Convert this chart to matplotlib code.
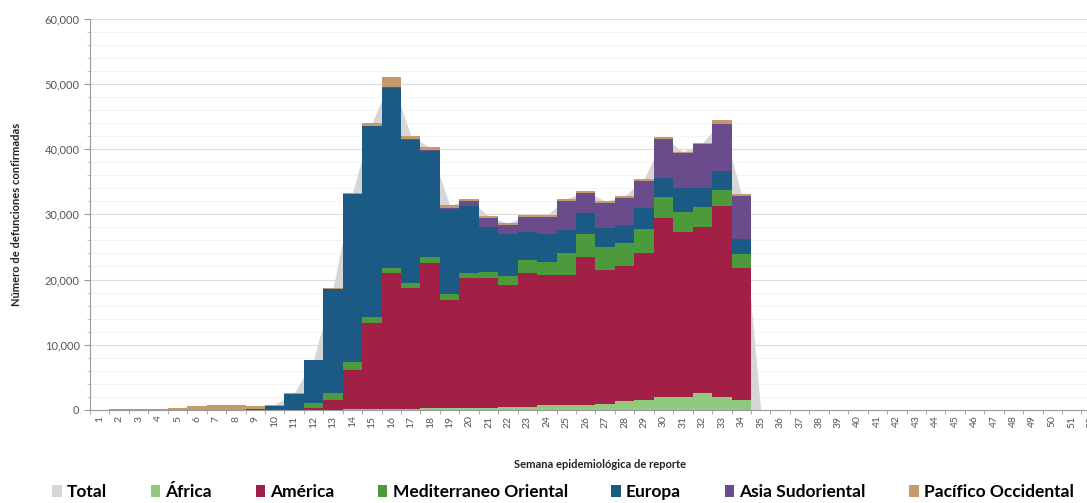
import numpy as np
from matplotlib import pyplot as plt
from matplotlib.ticker import FuncFormatter, MultipleLocator

weeks = list(range(1, 53))

# defunciones por semana (1-34, resto en cero)
africa = [0, 0, 0, 0, 0, 0, 0, 0, 0, 0,
          0, 0, 50, 100, 150, 200, 200, 250, 250, 300,
          300, 400, 500, 700, 750, 800, 900, 1300, 1500, 2000,
          2000, 2550, 2050, 1550]
america = [0, 0, 0, 0, 0, 0, 0, 0, 0, 20,
           100, 300, 1480, 6000, 13150, 20800, 18450, 22250, 16650, 19900,
           20000, 18700, 20460, 20000, 19950, 22700, 20550, 20700, 22500, 27400,
           25350, 25550, 29150, 20150]
mediterraneo = [0, 0, 0, 0, 0, 0, 0, 0, 0, 10,
                100, 770, 1020, 1300, 1000, 700, 850, 1000, 850, 800,
                800, 1370, 2040, 2000, 3300, 3500, 3600, 3600, 3800, 3300,
                3050, 3000, 2500, 2200]
europa = [0, 0, 0, 0, 0, 20, 30, 40, 80, 550,
          2300, 6580, 16050, 25700, 29300, 27600, 21900, 16200, 13050, 10300,
          7000, 6430, 4350, 4200, 3600, 3150, 2900, 2700, 3200, 2800,
          3600, 2900, 2900, 2300]
asia = [0, 0, 0, 0, 0, 0, 0, 0, 0, 0,
        0, 0, 0, 0, 0, 200, 100, 150, 150, 700,
        1350, 1400, 2300, 2700, 4500, 3150, 3800, 4200, 4100, 6100,
        5400, 6700, 7300, 6600]
pacifico = [50, 80, 100, 200, 350, 600, 800, 750, 500, 250,
            100, 50, 100, 200, 400, 1500, 500, 400, 400, 350,
            250, 300, 300, 300, 300, 200, 250, 300, 300, 200,
            200, 200, 500, 300]

n = len(weeks)
series = [africa, america, mediterraneo, europa, asia, pacifico]
series = [np.array(s + [0] * (n - len(s)), dtype=float) for s in series]
total = np.sum(series, axis=0)

names = ['África', 'América', 'Mediterraneo Oriental', 'Europa',
         'Asia Sudoriental', 'Pacífico Occidental']
colors = ['#93c97f', '#a21f45', '#4c9a3c', '#1c5a86', '#6a4b8b', '#c29a6b']

plt.rcParams['font.family'] = ['Lato', 'DejaVu Sans']

fig = plt.figure(figsize=(10.87, 5.03), dpi=100)
ax = fig.add_axes([0.0828, 0.185, 0.93, 0.778])

ax.fill_between(weeks, total, color='#d6d6d6', lw=0, label='Total', zorder=1)

bottom = np.zeros(n)
for s, name, c in zip(series, names, colors):
    ax.bar(weeks, s, width=1.0, bottom=bottom, color=c, label=name,
           lw=0, zorder=2)
    bottom += s

ax.set_xlim(0.5, 52.5)
ax.set_ylim(0, 60000)
ax.set_xticks(weeks)
ax.set_xticklabels([str(w) for w in weeks], rotation=90, fontsize=7.5,
                   color='#555555')
ax.set_xticks(np.arange(0.5, 53, 1), minor=True)
ax.tick_params(axis='x', which='major', length=0, pad=4)
ax.tick_params(axis='x', which='minor', length=3, color='#999999')

ax.yaxis.set_major_locator(MultipleLocator(10000))
ax.yaxis.set_minor_locator(MultipleLocator(2000))
ax.yaxis.set_major_formatter(FuncFormatter(lambda v, p: f'{int(v):,}'))
ax.tick_params(axis='y', which='major', labelsize=8, labelcolor='#555555',
               length=4, color='#999999')
ax.tick_params(axis='y', which='minor', length=2, color='#bbbbbb')
ax.grid(axis='y', which='major', color='#dddddd', lw=0.8, zorder=0)
ax.grid(axis='y', which='minor', color='#f3f3f3', lw=0.6, zorder=0)
ax.set_axisbelow(True)

for sp in ['top', 'right']:
    ax.spines[sp].set_visible(False)
ax.spines['left'].set_color('#999999')
ax.spines['bottom'].set_color('#999999')

ax.set_ylabel('Número de defunciones confirmadas', fontsize=8,
              fontweight='bold', color='#222222')
ax.yaxis.set_label_coords(-0.067, 0.5)
ax.set_xlabel('Semana epidemiológica de reporte', fontsize=8,
              fontweight='bold', color='#222222')
ax.xaxis.set_label_coords(0.505, -0.125)

handles, labels = ax.get_legend_handles_labels()
fig.legend(handles, labels, loc='center', bbox_to_anchor=(0.518, 0.022),
           ncol=7, frameon=False,
           prop={'weight': 'bold', 'size': 12.5},
           handlelength=0.55, handleheight=0.75, handletextpad=0.3,
           columnspacing=2.5)

plt.savefig('out.png', dpi=100)
